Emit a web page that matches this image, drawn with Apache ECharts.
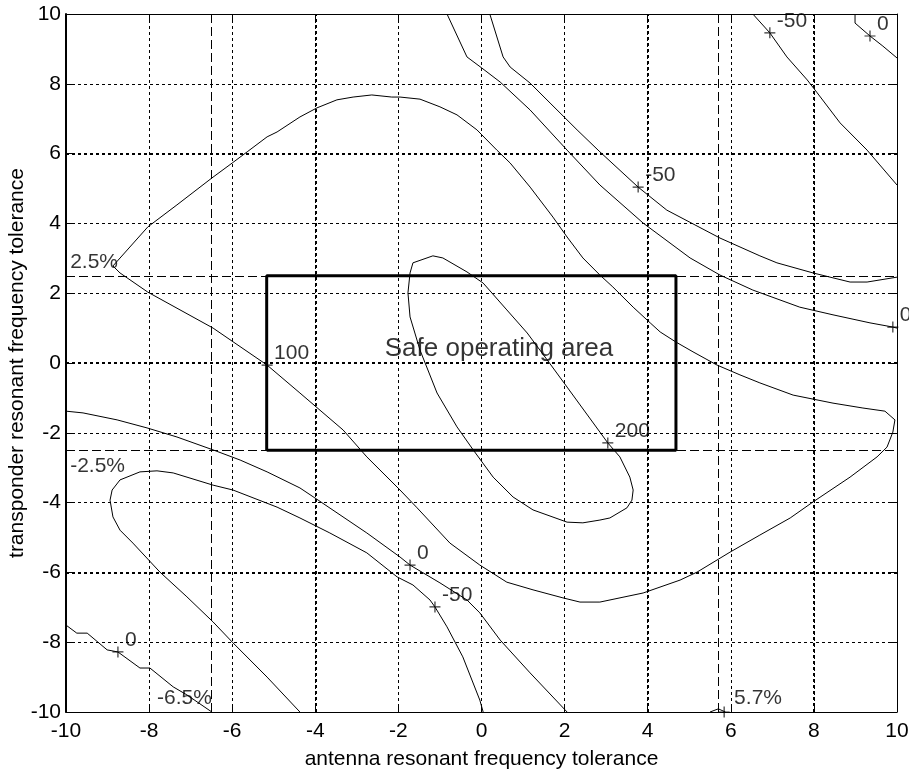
<!DOCTYPE html>
<html>
<head>
<meta charset="utf-8">
<script src="https://cdn.jsdelivr.net/npm/echarts@6/dist/echarts.min.js"></script>
<style>
  html, body { margin: 0; padding: 0; background: #fff; }
  #chart { width: 909px; height: 769px; }
</style>
</head>
<body>
<div id="chart"></div>
<script>
// Axis ranges and ticks (percent tolerance)
const axisMin = -10;
const axisMax = 10;
const tickStep = 2;

// Contour traces, [antenna tolerance, transponder tolerance]
const level100Loop = [
  [-8.87, 2.78], [-8.03, 3.90], [-7.33, 4.53], [-6.49, 5.30], [-6.00, 5.73], [-5.64, 6.05],
  [-5.16, 6.48], [-4.92, 6.62], [-4.37, 7.05], [-3.96, 7.31], [-3.48, 7.54], [-3.09, 7.62],
  [-2.64, 7.68], [-2.16, 7.62], [-1.96, 7.62], [-1.48, 7.56], [-1.00, 7.34], [-0.59, 7.11],
  [-0.11, 6.68], [0.37, 6.10], [0.69, 5.73], [1.17, 5.04], [1.72, 4.18], [2.06, 3.61],
  [2.44, 3.01], [2.85, 2.52], [3.16, 2.18], [3.65, 1.60], [4.06, 1.15], [4.30, 0.89],
  [4.68, 0.60], [5.09, 0.32], [5.67, -0.06], [6.22, -0.34], [6.70, -0.57], [7.50, -0.92],
  [8.46, -1.15], [9.18, -1.29], [9.71, -1.38], [9.95, -1.63], [9.90, -1.98], [9.76, -2.41],
  [9.52, -2.69], [8.87, -3.27], [7.98, -3.98], [7.43, -4.44], [6.70, -4.93], [5.98, -5.42],
  [5.19, -5.99], [4.78, -6.22], [3.89, -6.59], [2.85, -6.85], [2.37, -6.85], [1.96, -6.73],
  [1.24, -6.50], [0.61, -6.28], [-0.04, -5.79], [-0.76, -5.16], [-1.55, -4.15], [-1.96, -3.64],
  [-2.76, -2.69], [-3.33, -1.92], [-4.37, -0.86], [-5.16, -0.06], [-6.46, 1.00], [-8.03, 2.03],
  [-8.70, 2.58], [-8.87, 2.78]
];

const level200Loop = [
  [-1.17, 3.07], [-1.65, 2.87], [-1.72, 2.58], [-1.77, 2.01], [-1.72, 1.32], [-1.48, 0.37],
  [-1.07, -0.86], [-0.59, -1.83], [-0.20, -2.49], [0.28, -3.27], [0.76, -3.84], [1.24, -4.21],
  [2.06, -4.56], [2.44, -4.58], [2.85, -4.50], [3.09, -4.44], [3.50, -4.15], [3.62, -3.93],
  [3.65, -3.64], [3.57, -3.27], [3.33, -2.69], [3.04, -2.29], [2.85, -1.98], [2.06, -0.69],
  [1.58, 0.09], [1.10, 0.86], [0.61, 1.52], [0.04, 2.29], [-0.35, 2.61], [-0.93, 3.01],
  [-1.17, 3.07]
];

const levelM50Upper = [
  [0.20, 10.0], [0.52, 8.77], [0.69, 8.48], [1.17, 8.02], [1.65, 7.45], [2.30, 6.68],
  [2.85, 6.05], [3.77, 5.04], [4.46, 4.38], [5.74, 3.58], [6.70, 3.07], [7.11, 2.87],
  [7.98, 2.58], [8.87, 2.32], [9.28, 2.32], [10.0, 2.46]
];

const level0Upper = [
  [-0.83, 10.0], [-0.35, 8.77], [0.01, 8.45], [0.45, 8.05], [1.17, 7.25], [2.06, 6.10],
  [2.85, 5.10], [3.89, 4.01], [5.02, 3.01], [5.74, 2.52], [6.53, 2.09], [7.66, 1.60],
  [8.46, 1.38], [9.35, 1.15], [9.90, 1.03], [10.0, 1.00]
];

const levelM50Corner = [
  [6.53, 10.0], [6.94, 9.46], [7.35, 8.77], [7.84, 8.11], [8.08, 7.74], [8.63, 6.88],
  [9.28, 6.10], [10.0, 5.10]
];

const level0Corner = [
  [8.99, 10.0], [8.99, 9.74], [9.35, 9.37], [9.66, 9.08], [10.0, 8.74]
];

const level0Lower = [
  [-10.0, -1.38], [-9.59, -1.43], [-8.77, -1.63], [-8.05, -1.86], [-7.33, -2.12], [-6.46, -2.49],
  [-5.81, -2.78], [-5.16, -3.12], [-4.37, -3.58], [-3.93, -3.93], [-2.76, -4.87], [-1.96, -5.56],
  [-1.72, -5.79], [-1.00, -6.30], [-0.35, -6.79], [-0.04, -7.16], [0.45, -7.94], [1.17, -8.88],
  [2.06, -10.0]
];

const levelM50Lower = [
  [-4.37, -10.0], [-5.16, -9.00], [-5.98, -8.02], [-6.46, -7.42], [-7.09, -6.70], [-7.74, -5.99],
  [-8.39, -5.16], [-8.70, -4.79], [-8.87, -4.41], [-8.94, -3.93], [-8.89, -3.64], [-8.70, -3.35],
  [-8.22, -3.12], [-7.81, -3.09], [-7.42, -3.15], [-6.46, -3.50], [-5.98, -3.64], [-4.92, -4.13],
  [-4.37, -4.44], [-3.65, -4.87], [-2.76, -5.44], [-2.03, -6.13], [-1.65, -6.36], [-1.24, -6.79],
  [-1.12, -6.99], [-0.83, -7.56], [-0.45, -8.42], [-0.04, -9.66], [0.04, -10.0]
];

const level0BottomLeft = [
  [-10.0, -7.51], [-9.74, -7.74], [-9.49, -7.74], [-9.01, -8.22], [-8.75, -8.28], [-8.22, -8.74],
  [-7.98, -8.74], [-7.42, -9.28], [-7.09, -9.51], [-6.49, -10.0]
];

const levelBottomHump = [
  [5.50, -10.0], [5.70, -9.91], [5.87, -10.0]
];

// Contour label anchors: [x, y, level text]
const contourMarks = [
  [-5.16, -0.06, '100'], [3.04, -2.29, '200'], [-1.72, -5.79, '0'], [-1.12, -6.99, '-50'],
  [-8.75, -8.28, '0'], [3.77, 5.04, '-50'], [6.94, 9.46, '-50'], [9.35, 9.37, '0'],
  [9.90, 1.03, '0'], [5.84, -10.0, '']
];

// Tolerance limits
const toleranceX = [-6.5, 5.7];
const toleranceY = [2.5, -2.5];
const toleranceLabels = [
  [-9.90, 2.89, '2.5%'], [-9.90, -2.95, '-2.5%'], [-7.81, -9.60, '-6.5%'], [6.08, -9.60, '5.7%']
];

// Safe operating area bounds
const safeX = [-5.17, 4.68];
const safeY = [-2.5, 2.5];
const safeTitle = [[0.42, 0.40, 'Safe operating area']];

// Grid lines that print heavier
const heavyGridX = [-4, 4, 8];
const heavyGridY = [6, 0, -6];

const FONT = 'Liberation Sans, Arial, Helvetica, sans-serif';

const contours = [
  level100Loop, level200Loop, levelM50Upper, level0Upper, levelM50Corner, level0Corner,
  level0Lower, levelM50Lower, level0BottomLeft, levelBottomHump
];

const gridDash = { color: '#000', width: 1, type: [3, 3] };

function baseAxis(extra) {
  return Object.assign({
    type: 'value', min: axisMin, max: axisMax, interval: tickStep,
    axisLine: { show: true, onZero: false, lineStyle: { color: '#000', width: 1 } },
    axisTick: { show: true, inside: true, length: 7, lineStyle: { color: '#000', width: 1 } },
    splitLine: { show: false },
    axisLabel: { show: false }
  }, extra);
}

const chart = echarts.init(document.getElementById('chart'), null, { renderer: 'canvas' });

const series = [];

// heavier grid lines
series.push({
  type: 'line', data: [], silent: true, z: 1,
  markLine: {
    silent: true, symbol: 'none', label: { show: false }, animation: false,
    lineStyle: { color: '#000', width: 2, type: [3, 3] },
    data: heavyGridX.map(v => ({ xAxis: v })).concat(heavyGridY.map(v => ({ yAxis: v })))
  }
});

// tolerance limit lines
series.push({
  type: 'line', data: [], silent: true, z: 2,
  markLine: {
    silent: true, symbol: 'none', label: { show: false }, animation: false,
    lineStyle: { color: '#000', width: 1, type: [9, 4] },
    data: toleranceX.map(v => ({ xAxis: v })).concat(toleranceY.map(v => ({ yAxis: v })))
  }
});

contours.forEach(c => {
  series.push({
    type: 'line', data: c, showSymbol: false, smooth: false, silent: true, z: 3,
    lineStyle: { color: '#000', width: 1 }
  });
});

// safe operating area rectangle
series.push({
  type: 'line', showSymbol: false, silent: true, z: 4,
  lineStyle: { color: '#000', width: 3 },
  data: [
    [safeX[0], safeY[0]], [safeX[1], safeY[0]], [safeX[1], safeY[1]],
    [safeX[0], safeY[1]], [safeX[0], safeY[0]]
  ]
});

// contour level markers and labels
series.push({
  type: 'scatter', z: 5, silent: true,
  symbol: 'path://M0,5L10,5M5,0L5,10', symbolSize: 11,
  itemStyle: { color: 'none', borderColor: '#000', borderWidth: 1.2 },
  data: contourMarks,
  label: {
    show: true, position: 'right', distance: -1, offset: [0, -12],
    color: '#000', fontFamily: FONT, fontSize: 21,
    formatter: p => p.data[2]
  }
});

// tolerance labels
series.push({
  type: 'scatter', z: 5, silent: true, symbolSize: 0,
  data: toleranceLabels,
  label: {
    show: true, position: 'right', distance: 0,
    color: '#000', fontFamily: FONT, fontSize: 21,
    formatter: p => p.data[2]
  }
});

// area title
series.push({
  type: 'scatter', z: 5, silent: true, symbolSize: 0,
  data: safeTitle,
  label: {
    show: true, position: 'inside',
    color: '#000', fontFamily: FONT, fontSize: 26,
    formatter: p => p.data[2]
  }
});

chart.setOption({
  animation: false,
  backgroundColor: '#fff',
  grid: { left: 66, right: 12, top: 14, bottom: 57, containLabel: false, outerBoundsMode: 'none' },
  xAxis: [
    baseAxis({
      position: 'bottom',
      name: 'antenna resonant frequency tolerance',
      nameLocation: 'middle', nameGap: 37, nameMoveOverlap: false,
      nameTextStyle: { color: '#000', fontFamily: FONT, fontSize: 21 },
      axisLabel: { show: true, color: '#000', fontFamily: FONT, fontSize: 21, margin: 9 },
      splitLine: { show: true, lineStyle: gridDash }
    }),
    baseAxis({ position: 'top' })
  ],
  yAxis: [
    baseAxis({
      position: 'left',
      name: 'transponder resonant frequency tolerance',
      nameLocation: 'middle', nameGap: 38, nameMoveOverlap: false,
      nameTextStyle: { color: '#000', fontFamily: FONT, fontSize: 21 },
      axisLine: { show: true, onZero: false, lineStyle: { color: '#000', width: 2 } },
      axisLabel: { show: true, color: '#000', fontFamily: FONT, fontSize: 21, margin: 5 },
      splitLine: { show: true, lineStyle: gridDash }
    }),
    baseAxis({ position: 'right' })
  ],
  series: series
});
</script>
</body>
</html>
